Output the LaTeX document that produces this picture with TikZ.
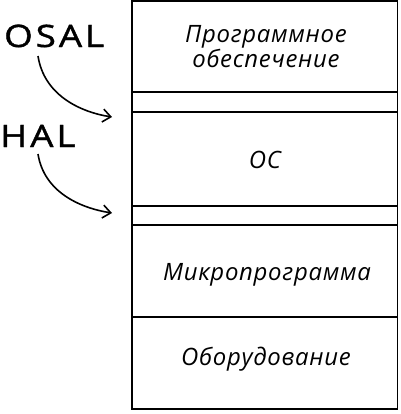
\documentclass[tikz,border=0pt]{standalone}
\usepackage{fontspec}
\setmainfont{Open Sans}
\newfontfamily\sidefont[FakeBold=1.2,LetterSpace=8]{Open Sans}
\newcommand\sidewide[1]{\scalebox{1.19}[1]{#1}}
\usetikzlibrary{arrows.meta}
\tikzset{
  layer/.style={draw=black, line width=1.8bp},
  lbl/.style={font=\fontsize{24}{22}\selectfont\itshape\addfontfeatures{LetterSpace=3}, align=center, inner sep=0pt, anchor=base},
  side/.style={font=\sidefont\fontsize{31}{32}\selectfont, inner sep=0pt, anchor=base west},
  pointer/.style={line width=1.6bp, -{Straight Barb[length=8bp,width=13bp]}}
}
\begin{document}
\begin{tikzpicture}[x=1bp,y=-1bp]
\useasboundingbox (0,0) rectangle (401,414);
% layers
\draw[layer] (132,1) rectangle (397.5,409);
\draw[layer] (132,92) -- (397.5,92);
\draw[layer] (132,112) -- (397.5,112);
\draw[layer] (132,206) -- (397.5,206);
\draw[layer] (132,225) -- (397.5,225);
\draw[layer] (132,317) -- (397.5,317);
\coordinate (gap1) at (112,117);
\coordinate (gap2) at (112,213);
% labels
\node[lbl] (sw) at (266,67) {Программное\\обеспечение};
\node[lbl] (os) at (265,168) {ОС};
\node[lbl] (fw) at (267,280) {Микропрограмма};
\node[lbl] (hw) at (266,365) {Оборудование};
% side labels
\node[side] (osal) at (4,47) {\sidewide{OSAL}};
\node[side] (hal) at (0,147) {\sidewide{HAL}};
\coordinate (osalstart) at (38,56);
\coordinate (halstart) at (38,154);
\draw[pointer] (osalstart) .. controls (44,95) and (80,112) .. (gap1);
\draw[pointer] (halstart) .. controls (44,192) and (80,208) .. (gap2);
\end{tikzpicture}
\end{document}
